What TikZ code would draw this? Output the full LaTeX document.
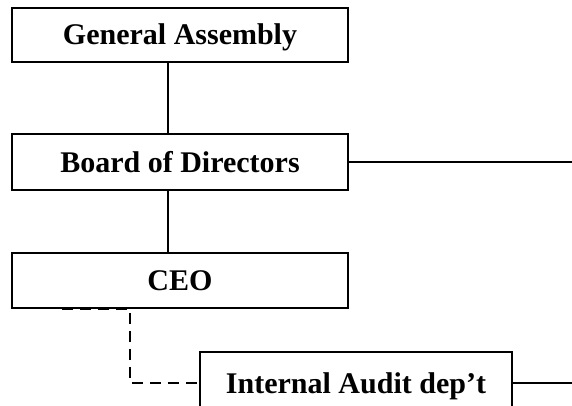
\documentclass[tikz,border=0pt]{standalone}
\usepackage{fontspec}
\setmainfont{Liberation Serif}
\tikzset{
	orgbox/.style={draw, line width=1.6pt, inner sep=0pt, text height=20pt, text depth=0pt,
		font=\bfseries\fontsize{30}{36}\selectfont},
	link/.style={line width=1.6pt},
	dotlink/.style={line width=2pt, dash pattern=on 11pt off 7pt}
}
\begin{document}
\begin{tikzpicture}[x=1pt, y=-1pt]
	\useasboundingbox (0,0) rectangle (572,406);
	\clip (0,0) rectangle (572,406);
	
	\node[orgbox, minimum width=336pt, minimum height=54pt] (ga) at (180,35) {General Assembly};
	\node[orgbox, minimum width=336pt, minimum height=56pt] (bod) at (180,162) {Board of Directors};
	\node[orgbox, minimum width=336pt, minimum height=55pt] (ceo) at (180,280.5) {CEO};
	\node[orgbox, minimum width=312pt, minimum height=62pt] (audit) at (356,383) {Internal Audit dep't};
	
	\coordinate (spine) at (168,0);
	\coordinate (dashstart) at (62,0);
	\coordinate (dashcorner) at (130,0);
	\coordinate (bodout) at (572,162);
	\coordinate (auditout) at (572,383);
	
	\draw[link] (ga.south -| spine) -- (bod.north -| spine);
	\draw[link] (bod.south -| spine) -- (ceo.north -| spine);
	\draw[link] (bod.east) -- (bodout);
	\draw[link] (audit.east) -- (auditout);
	\draw[dotlink] (ceo.south -| dashstart) -- (ceo.south -| dashcorner) |- (audit.west);
\end{tikzpicture}
\end{document}
